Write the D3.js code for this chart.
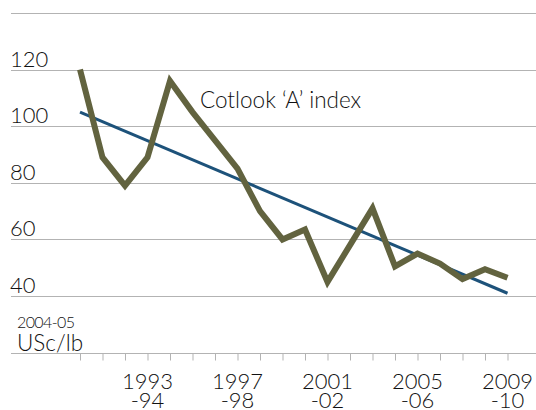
<!DOCTYPE html>
<html>
<head>
<meta charset="utf-8">
<script src="https://cdn.jsdelivr.net/npm/d3@7"></script>
<style>
  html, body { margin: 0; padding: 0; background: #fff; }
  svg { display: block; }
  text { font-family: Lato, "Open Sans", sans-serif; font-weight: 300; fill: #111; }
</style>
</head>
<body>
<div id="chart"></div>
<script>
// ---- data ----
const years = ["1990-91","1991-92","1992-93","1993-94","1994-95","1995-96","1996-97","1997-98","1998-99","1999-00",
               "2000-01","2001-02","2002-03","2003-04","2004-05","2005-06","2006-07","2007-08","2008-09","2009-10"];
const cotlookA = [120, 89, 79, 89, 116, 105, 95, 85, 70, 60, 63.5, 45, 58, 71, 50.5, 55, 51.5, 46, 49.5, 46.5];
const trendYears = ["1990-91", "2009-10"];
const trendValues = [105, 41];
const yLabelValues = [40, 60, 80, 100, 120];
const gridValues = [40, 60, 80, 100, 120, 140];
const xLabelYears = ["1993-94", "1997-98", "2001-02", "2005-06", "2009-10"];
const seriesLabel = "Cotlook \u2018A\u2019 index";
const unitLine1 = "2004-05";
const unitLine2 = "USc/lb";

// ---- layout ----
const W = 536, H = 410;
const svg = d3.select("#chart").append("svg").attr("width", W).attr("height", H);

const x = d3.scalePoint().domain(years).range([80, 507.5]);
const y = d3.scaleLinear().domain([20, 140]).range([352.7, 13]);
const crisp = v => Math.round(v) + 0.5;

// grid lines
svg.append("g").selectAll("line").data(gridValues).join("line")
  .attr("x1", 11).attr("x2", W)
  .attr("y1", d => crisp(y(d))).attr("y2", d => crisp(y(d)))
  .attr("stroke", "#b3b3b3").attr("stroke-width", 1);

// y labels
svg.append("g").selectAll("text").data(yLabelValues).join("text")
  .attr("x", 10).attr("y", d => y(d) - 3)
  .attr("font-size", 22)
  .text(d => d);

// x axis baseline
svg.append("line")
  .attr("x1", 11).attr("x2", W)
  .attr("y1", crisp(y(20))).attr("y2", crisp(y(20)))
  .attr("stroke", "#b3b3b3").attr("stroke-width", 1);

// x ticks via d3 axis
const xAxis = d3.axisBottom(x).tickSize(7).tickFormat("");
const gx = svg.append("g").attr("transform", `translate(0,${crisp(y(20))})`).call(xAxis);
gx.select(".domain").remove();
gx.selectAll(".tick line").attr("stroke", "#b3b3b3");

// x labels (two lines)
const xl = svg.append("g").selectAll("text").data(xLabelYears).join("text")
  .attr("text-anchor", "middle")
  .attr("font-size", 22);
xl.append("tspan").attr("x", d => x(d)).attr("y", 388.5).text(d => d.split("-")[0]);
xl.append("tspan").attr("x", d => x(d)).attr("y", 408).text(d => "-" + d.split("-")[1]);

// unit label
svg.append("text").attr("x", 17).attr("y", 327.7).attr("font-size", 16).attr("letter-spacing", -0.6).text(unitLine1);
svg.append("text").attr("x", 17).attr("y", 351).attr("font-size", 22.5).text(unitLine2);

// trend line
const trend = trendYears.map((d, i) => [d, trendValues[i]]);
svg.append("path").datum(trend)
  .attr("fill", "none").attr("stroke", "#1d527a").attr("stroke-width", 3)
  .attr("d", d3.line().x(d => x(d[0])).y(d => y(d[1])));

// Cotlook A line
const series = years.map((d, i) => [d, cotlookA[i]]);
svg.append("path").datum(series)
  .attr("fill", "none").attr("stroke", "#62633f").attr("stroke-width", 6)
  .attr("stroke-linejoin", "miter").attr("stroke-linecap", "butt")
  .attr("d", d3.line().x(d => x(d[0])).y(d => y(d[1])));

// series label
svg.append("text").attr("x", 200).attr("y", 108.3).attr("font-size", 22.5).text(seriesLabel);
</script>
</body>
</html>
